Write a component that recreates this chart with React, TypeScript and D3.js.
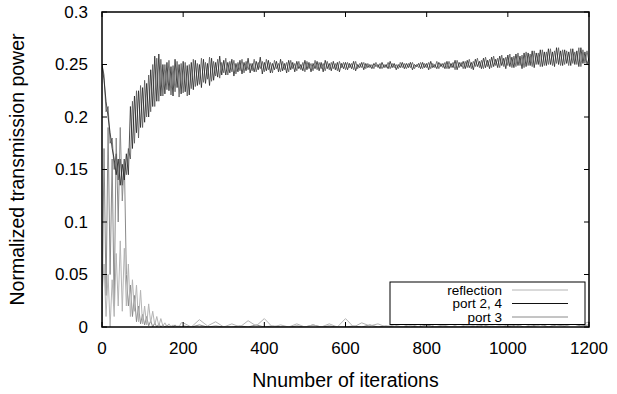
import * as d3 from "d3";

const xTicks = [0, 200, 400, 600, 800, 1000, 1200];
const yTicks = [0, 0.05, 0.1, 0.15, 0.2, 0.25, 0.3];
const yTickLabels = ["0", "0.05", "0.1", "0.15", "0.2", "0.25", "0.3"];

// port 2 and port 4: one value every 5 iterations, 0..1200
const port2 = [
  0.25, 0.235, 0.215, 0.2, 0.185, 0.17, 0.16, 0.145, 0.16, 0.135,
  0.155, 0.14, 0.165, 0.145, 0.21, 0.17, 0.22, 0.185, 0.225, 0.19,
  0.228, 0.195, 0.232, 0.2, 0.245, 0.21, 0.258, 0.215, 0.26, 0.22,
  0.25, 0.222, 0.252, 0.225, 0.248, 0.22, 0.255, 0.228, 0.25, 0.222,
  0.253, 0.224, 0.249, 0.221, 0.252, 0.226, 0.254, 0.23, 0.25, 0.228,
  0.255, 0.232, 0.251, 0.23, 0.256, 0.235, 0.252, 0.238, 0.258, 0.24,
  0.254, 0.24, 0.252, 0.242, 0.255, 0.239, 0.251, 0.243, 0.254, 0.241,
  0.252, 0.244, 0.256, 0.242, 0.251, 0.243, 0.253, 0.245, 0.257, 0.241,
  0.252, 0.244, 0.254, 0.242, 0.251, 0.245, 0.253, 0.243, 0.255, 0.244,
  0.251, 0.242, 0.254, 0.245, 0.252, 0.243, 0.253, 0.246, 0.25, 0.244,
  0.254, 0.245, 0.252, 0.243, 0.251, 0.246, 0.253, 0.244, 0.252, 0.243,
  0.254, 0.246, 0.251, 0.244, 0.253, 0.245, 0.252, 0.243, 0.251, 0.246,
  0.252, 0.245, 0.251, 0.246, 0.253, 0.244, 0.25, 0.247, 0.252, 0.245,
  0.251, 0.247, 0.25, 0.246, 0.251, 0.248, 0.25, 0.246, 0.252, 0.247,
  0.25, 0.246, 0.253, 0.247, 0.251, 0.245, 0.25, 0.247, 0.252, 0.246,
  0.251, 0.247, 0.252, 0.245, 0.25, 0.248, 0.251, 0.246, 0.252, 0.247,
  0.251, 0.245, 0.253, 0.247, 0.25, 0.246, 0.252, 0.248, 0.251, 0.246,
  0.253, 0.246, 0.251, 0.247, 0.254, 0.245, 0.252, 0.248, 0.253, 0.246,
  0.254, 0.247, 0.252, 0.245, 0.255, 0.248, 0.253, 0.246, 0.256, 0.247,
  0.254, 0.246, 0.257, 0.248, 0.255, 0.247, 0.258, 0.249, 0.256, 0.246,
  0.259, 0.248, 0.257, 0.247, 0.26, 0.249, 0.258, 0.246, 0.261, 0.248,
  0.261, 0.249, 0.263, 0.247, 0.261, 0.25, 0.264, 0.248, 0.262, 0.249,
  0.265, 0.25, 0.262, 0.248, 0.266, 0.25, 0.263, 0.249, 0.264, 0.251,
  0.262, 0.249, 0.265, 0.25, 0.263, 0.248, 0.266, 0.251, 0.262, 0.25,
  0.256,
];
const port4 = [
  0.25, 0.24, 0.205, 0.21, 0.175, 0.18, 0.15, 0.165, 0.14, 0.16,
  0.135, 0.16, 0.145, 0.17, 0.16, 0.215, 0.175, 0.225, 0.18, 0.23,
  0.19, 0.235, 0.2, 0.24, 0.205, 0.25, 0.21, 0.256, 0.215, 0.255,
  0.22, 0.25, 0.226, 0.254, 0.221, 0.249, 0.224, 0.253, 0.219, 0.251,
  0.223, 0.252, 0.22, 0.25, 0.227, 0.255, 0.229, 0.251, 0.231, 0.256,
  0.233, 0.252, 0.236, 0.257, 0.234, 0.253, 0.239, 0.255, 0.237, 0.252,
  0.242, 0.256, 0.24, 0.253, 0.243, 0.254, 0.241, 0.252, 0.244, 0.255,
  0.242, 0.253, 0.245, 0.251, 0.244, 0.255, 0.243, 0.252, 0.246, 0.253,
  0.243, 0.255, 0.245, 0.252, 0.242, 0.254, 0.246, 0.251, 0.243, 0.253,
  0.245, 0.252, 0.243, 0.254, 0.246, 0.251, 0.244, 0.253, 0.245, 0.252,
  0.243, 0.253, 0.246, 0.251, 0.244, 0.254, 0.245, 0.252, 0.246, 0.251,
  0.244, 0.253, 0.245, 0.252, 0.246, 0.251, 0.244, 0.253, 0.247, 0.252,
  0.245, 0.252, 0.247, 0.251, 0.245, 0.253, 0.246, 0.251, 0.247, 0.252,
  0.246, 0.251, 0.247, 0.25, 0.246, 0.252, 0.247, 0.251, 0.246, 0.25,
  0.247, 0.252, 0.246, 0.251, 0.247, 0.25, 0.246, 0.252, 0.247, 0.251,
  0.246, 0.251, 0.247, 0.252, 0.246, 0.25, 0.247, 0.252, 0.246, 0.251,
  0.247, 0.252, 0.246, 0.251, 0.247, 0.253, 0.246, 0.251, 0.247, 0.252,
  0.246, 0.253, 0.247, 0.252, 0.245, 0.254, 0.247, 0.252, 0.246, 0.253,
  0.247, 0.255, 0.246, 0.253, 0.248, 0.256, 0.247, 0.254, 0.246, 0.257,
  0.248, 0.255, 0.247, 0.258, 0.249, 0.256, 0.247, 0.259, 0.248, 0.257,
  0.249, 0.26, 0.247, 0.258, 0.248, 0.261, 0.249, 0.259, 0.247, 0.262,
  0.249, 0.26, 0.248, 0.263, 0.25, 0.261, 0.248, 0.264, 0.249, 0.262,
  0.25, 0.265, 0.249, 0.263, 0.251, 0.266, 0.249, 0.264, 0.25, 0.263,
  0.249, 0.265, 0.251, 0.262, 0.25, 0.266, 0.248, 0.264, 0.251, 0.263,
  0.253,
];

// reflection / port 3: every 5 iterations up to 195, then every 20 up to 1200
const reflectionEarly = [
  0.03, 0.06, 0.01, 0.05, 0.0, 0.045, 0.01, 0.07, 0.02, 0.082,
  0.015, 0.075, 0.02, 0.06, 0.01, 0.045, 0.015, 0.04, 0.005, 0.035,
  0.003, 0.02, 0.002, 0.022, 0.004, 0.015, 0.002, 0.01, 0.001, 0.008,
  0.001, 0.004, 0.0, 0.003, 0.0, 0.002, 0.0, 0.001, 0.0, 0.004,
];
const reflectionLate = [
  0.004, 0.0, 0.007, 0.001, 0.005, 0.0, 0.003, 0.0, 0.006, 0.001,
  0.008, 0.0, 0.002, 0.0, 0.003, 0.0, 0.002, 0.0, 0.003, 0.0,
  0.008, 0.0, 0.004, 0.001, 0.003, 0.0, 0.002, 0.0, 0.003, 0.0,
  0.006, 0.0, 0.002, 0.0, 0.003, 0.0, 0.002, 0.0, 0.001, 0.0,
  0.002, 0.0, 0.003, 0.0, 0.002, 0.0, 0.003, 0.001, 0.004, 0.002,
  0.005,
];
const port3Early = [
  0.0, 0.17, 0.03, 0.19, 0.05, 0.16, 0.02, 0.18, 0.1, 0.19,
  0.12, 0.16, 0.05, 0.02, 0.04, 0.01, 0.03, 0.005, 0.02, 0.003,
  0.012, 0.002, 0.01, 0.001, 0.006, 0.0, 0.004, 0.0, 0.003, 0.0,
  0.002, 0.0, 0.002, 0.0, 0.001, 0.0, 0.002, 0.0, 0.001, 0.0,
];
const port3Late = [
  0.001, 0.0, 0.002, 0.0, 0.001, 0.0, 0.0, 0.001, 0.0, 0.002,
  0.0, 0.001, 0.0, 0.0, 0.001, 0.0, 0.002, 0.0, 0.001, 0.0,
  0.0, 0.001, 0.0, 0.002, 0.0, 0.001, 0.0, 0.0, 0.001, 0.0,
  0.002, 0.0, 0.001, 0.0, 0.0, 0.001, 0.0, 0.002, 0.0, 0.001,
  0.0, 0.002, 0.0, 0.001, 0.003, 0.0, 0.002, 0.001, 0.003, 0.001,
  0.002,
];

const legendItems = [
  { label: "reflection", color: "#b4b4b4", width: 1 },
  { label: "port 2, 4", color: "#111111", width: 1.2 },
  { label: "port 3", color: "#8a8a8a", width: 1 },
];

const W = 617;
const H = 394;
const margin = { left: 102, right: 28, top: 12, bottom: 67 };
const font = "'Liberation Sans', Arial, sans-serif";

export default function App() {
  const x = d3.scaleLinear().domain([0, 1200]).range([margin.left, W - margin.right]);
  const y = d3.scaleLinear().domain([0, 0.3]).range([H - margin.bottom, margin.top]);

  const earlyIter = d3.range(0, 200, 5);
  const lateIter = d3.range(200, 1201, 20);
  const portIter = d3.range(0, 1201, 5);
  const pairs = (iters: number[], vals: number[]) => iters.map((it, i) => [it, vals[i]] as [number, number]);

  const port2Data = pairs(portIter, port2);
  const port4Data = pairs(portIter, port4);
  const reflData = [...pairs(earlyIter, reflectionEarly), ...pairs(lateIter, reflectionLate)];
  const port3Data = [...pairs(earlyIter, port3Early), ...pairs(lateIter, port3Late)];

  const line = d3
    .line<[number, number]>()
    .x(d => x(d[0]))
    .y(d => y(d[1]));

  const x0 = x.range()[0];
  const x1 = x.range()[1];
  const y0 = y.range()[0];
  const y1 = y.range()[1];
  const tick = 5;

  // legend box
  const lgX0 = 390;
  const lgX1 = 585;
  const lgY0 = 282;
  const rowH = 13.5;

  return (
    <svg width={W} height={H} style={{ position: "absolute", left: 0, top: 0, background: "#fff" }}>
      <defs>
        <clipPath id="plot">
          <rect x={x0} y={y1} width={x1 - x0} height={y0 - y1} />
        </clipPath>
      </defs>

      <g clipPath="url(#plot)" fill="none" strokeLinejoin="round">
        <path d={line(port3Data) ?? ""} stroke="#8a8a8a" strokeWidth={1} />
        <path d={line(reflData) ?? ""} stroke="#b4b4b4" strokeWidth={1} />
        <path d={line(port4Data) ?? ""} stroke="#555" strokeWidth={0.8} />
        <path d={line(port2Data) ?? ""} stroke="#222" strokeWidth={0.8} />
      </g>

      {/* ticks, all four sides inward */}
      <g stroke="#000" strokeWidth={1}>
        {xTicks.map(t => (
          <g key={"x" + t}>
            <line x1={x(t)} x2={x(t)} y1={y0} y2={y0 - tick} />
            <line x1={x(t)} x2={x(t)} y1={y1} y2={y1 + tick} />
          </g>
        ))}
        {yTicks.map(t => (
          <g key={"y" + t}>
            <line x1={x0} x2={x0 + tick} y1={y(t)} y2={y(t)} />
            <line x1={x1} x2={x1 - tick} y1={y(t)} y2={y(t)} />
          </g>
        ))}
      </g>

      {/* legend */}
      <rect x={lgX0} y={lgY0} width={lgX1 - lgX0} height={rowH * 3 + 2} fill="#fff" stroke="#000" strokeWidth={1} />
      {legendItems.map((d, i) => (
        <g key={d.label}>
          <text
            x={502}
            y={lgY0 + 8 + i * rowH}
            dy="0.35em"
            textAnchor="end"
            fontFamily={font}
            fontSize={13.5}
            fill="#000"
          >
            {d.label}
          </text>
          <line
            x1={512}
            x2={568}
            y1={lgY0 + 8 + i * rowH}
            y2={lgY0 + 8 + i * rowH}
            stroke={d.color}
            strokeWidth={d.width}
          />
        </g>
      ))}

      <rect x={x0} y={y1} width={x1 - x0} height={y0 - y1} fill="none" stroke="#000" strokeWidth={1.5} />

      {/* tick labels */}
      {xTicks.map(t => (
        <text key={"xl" + t} x={x(t)} y={y0 + 27} textAnchor="middle" fontFamily={font} fontSize={17} fill="#000">
          {t}
        </text>
      ))}
      {yTicks.map((t, i) => (
        <text
          key={"yl" + t}
          x={x0 - 14}
          y={y(t)}
          dy="0.35em"
          textAnchor="end"
          fontFamily={font}
          fontSize={17}
          fill="#000"
        >
          {yTickLabels[i]}
        </text>
      ))}

      {/* axis titles */}
      <text x={(x0 + x1) / 2} y={H - 7} textAnchor="middle" fontFamily={font} fontSize={19.5} fill="#000">
        Nnumber of iterations
      </text>
      <text
        transform={`translate(24, ${(y0 + y1) / 2}) rotate(-90)`}
        textAnchor="middle"
        fontFamily={font}
        fontSize={19.5}
        fill="#000"
      >
        Normalized transmission power
      </text>
    </svg>
  );
}
